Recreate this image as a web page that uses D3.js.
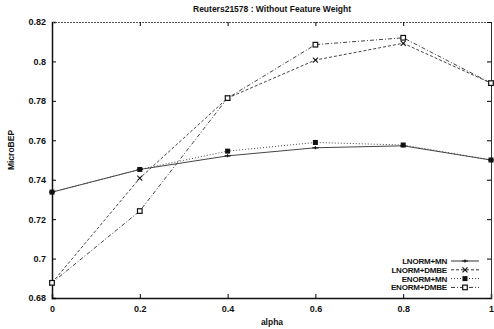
<!DOCTYPE html>
<html>
<head>
<meta charset="utf-8">
<script src="https://cdn.jsdelivr.net/npm/d3@7"></script>
<style>
  body { margin: 0; background: #fff; }
  text { font-family: "Liberation Sans", Arial, sans-serif; font-weight: bold; fill: #111; }
</style>
</head>
<body>
<div id="chart"></div>
<script>
const alphas = [0, 0.2, 0.4, 0.6, 0.8, 1];
const lnormMn = [0.7337, 0.7452, 0.7521, 0.7562, 0.7572, 0.7500];
const lnormDmbe = [0.6877, 0.7408, 0.7814, 0.8007, 0.8092, 0.7890];
const enormMn = [0.7337, 0.7452, 0.7545, 0.7589, 0.7576, 0.7500];
const enormDmbe = [0.6877, 0.7241, 0.7814, 0.8085, 0.8120, 0.7890];
const yTicks = [0.68, 0.7, 0.72, 0.74, 0.76, 0.78, 0.8, 0.82];
const xTicks = [0, 0.2, 0.4, 0.6, 0.8, 1];

const series = [
  { name: "LNORM+MN", values: lnormMn, dash: null, marker: "plus" },
  { name: "LNORM+DMBE", values: lnormDmbe, dash: "3,2", marker: "x" },
  { name: "ENORM+MN", values: enormMn, dash: "1,2", marker: "fsquare" },
  { name: "ENORM+DMBE", values: enormDmbe, dash: "4,2,1,2", marker: "osquare" },
];

const width = 494, height = 329;
const margin = { top: 22, right: 3, bottom: 31, left: 52 };
const w = width - margin.left - margin.right;
const h = height - margin.top - margin.bottom;

const svg = d3.select("#chart").append("svg")
  .attr("width", width).attr("height", height);

const g = svg.append("g").attr("transform", `translate(${margin.left},${margin.top})`);

const x = d3.scaleLinear().domain([0, 1]).range([0, w]);
const y = d3.scaleLinear().domain([0.68, 0.82]).range([h, 0]);

const fmt = d => (d === 0 || d === 1) ? String(d) : String(+d.toFixed(2));

// axes, ticks pointing inward
g.append("g").attr("transform", `translate(0,${h})`)
  .call(d3.axisBottom(x).tickValues(xTicks).tickSize(-4).tickPadding(8).tickFormat(fmt))
  .call(a => a.select(".domain").attr("stroke", "#111").attr("stroke-width", 1.5))
  .call(a => a.selectAll("text").style("font-size", "9px").attr("fill", "#111"));
g.append("g")
  .call(d3.axisLeft(y).tickValues(yTicks).tickSize(-4).tickPadding(6).tickFormat(fmt))
  .call(a => a.select(".domain").attr("stroke", "#111").attr("stroke-width", 1.5))
  .call(a => a.selectAll("text").style("font-size", "9px").attr("fill", "#111"));
g.append("g")
  .call(d3.axisTop(x).tickValues(xTicks).tickSize(-4).tickFormat(""))
  .call(a => a.select(".domain").attr("stroke", "#555").attr("stroke-dasharray", "2,1"));
g.append("g").attr("transform", `translate(${w},0)`)
  .call(d3.axisRight(y).tickValues(yTicks).tickSize(-4).tickFormat(""))
  .call(a => a.select(".domain").attr("stroke", "#333"));

const line = d3.line().x((d, i) => x(alphas[i])).y(d => y(d));

function drawMarker(sel, type, cx, cy) {
  if (type === "plus") {
    sel.append("path").attr("d", `M${cx - 3},${cy}H${cx + 3}M${cx},${cy - 1.5}V${cy + 1.5}`)
      .attr("stroke", "#111").attr("stroke-width", 1.2);
  } else if (type === "x") {
    sel.append("path").attr("d", `M${cx - 2.5},${cy - 2.5}L${cx + 2.5},${cy + 2.5}M${cx - 2.5},${cy + 2.5}L${cx + 2.5},${cy - 2.5}`)
      .attr("stroke", "#111").attr("stroke-width", 1.1);
  } else if (type === "fsquare") {
    sel.append("rect").attr("x", cx - 2.5).attr("y", cy - 2.5).attr("width", 5).attr("height", 5)
      .attr("fill", "#111");
  } else {
    sel.append("rect").attr("x", cx - 2.3).attr("y", cy - 2.3).attr("width", 4.6).attr("height", 4.6)
      .attr("fill", "#fff").attr("stroke", "#111").attr("stroke-width", 1.2);
  }
}

series.forEach(s => {
  g.append("path").datum(s.values)
    .attr("fill", "none").attr("stroke", "#444").attr("stroke-width", 1)
    .attr("stroke-dasharray", s.dash).attr("d", line);
});
series.forEach(s => {
  const mg = g.append("g");
  s.values.forEach((v, i) => drawMarker(mg, s.marker, x(alphas[i]), y(v)));
});

// legend
const lg = svg.append("g");
series.forEach((s, i) => {
  const ly = 261 + i * 8.8;
  lg.append("text").attr("x", 447).attr("y", ly + 3).attr("text-anchor", "end")
    .style("font-size", "8px").style("letter-spacing", "-0.2px").text(s.name);
  lg.append("line").attr("x1", 451).attr("x2", 479).attr("y1", ly).attr("y2", ly)
    .attr("stroke", "#333").attr("stroke-dasharray", s.dash);
  drawMarker(lg, s.marker, 465, ly);
});

svg.append("text").attr("x", 272).attr("y", 12).attr("text-anchor", "middle")
  .style("font-size", "8.5px").text("Reuters21578 : Without Feature Weight");
svg.append("text").attr("x", 272).attr("y", 325).attr("text-anchor", "middle")
  .style("font-size", "8.5px").text("alpha");
svg.append("text").attr("transform", "translate(14,150) rotate(-90)").attr("text-anchor", "middle")
  .style("font-size", "8.5px").text("MicroBEP");
</script>
</body>
</html>
